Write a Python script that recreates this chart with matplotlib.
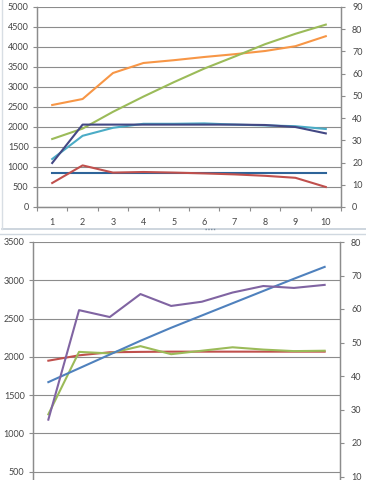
import numpy as np
import matplotlib
matplotlib.use("Agg")
import matplotlib.pyplot as plt
from matplotlib.lines import Line2D

# --- data ---
cats = [1, 2, 3, 4, 5, 6, 7, 8, 9, 10]

# top chart, left-axis units
top_orange = [2550, 2700, 3350, 3600, 3670, 3750, 3820, 3900, 4020, 4270]
top_green = [1700, 1960, 2380, 2760, 3120, 3460, 3760, 4070, 4330, 4560]
top_teal = [1200, 1780, 1980, 2080, 2080, 2090, 2060, 2040, 2020, 1950]
top_navy = [1100, 2060, 2060, 2060, 2060, 2060, 2060, 2050, 2000, 1840]
top_flat = [840, 840, 840, 840, 840, 840, 840, 840, 840, 840]
top_red = [600, 1040, 860, 875, 860, 840, 815, 780, 730, 500]

# bottom chart, left-axis units
bot_purple = [1180, 2610, 2520, 2820, 2665, 2720, 2840, 2925, 2900, 2940]
bot_blue = [1670, 1850, 2030, 2210, 2380, 2540, 2700, 2860, 3020, 3175]
bot_red = [1950, 2020, 2060, 2065, 2068, 2068, 2068, 2068, 2068, 2068]
bot_green = [1250, 2065, 2045, 2140, 2035, 2080, 2125, 2095, 2075, 2080]

plt.rcParams['font.family'] = ['Lato', 'DejaVu Sans']

W, H = 366, 480
fig = plt.figure(figsize=(W / 100, H / 100), dpi=100)
fig.patch.set_facecolor('white')

grid_c = '#8c8c8c'
axis_c = '#8c8c8c'
txt_c = '#454545'


def px(x0, y0, x1, y1):
    # pixel box -> figure rect
    return [x0 / W, 1 - y1 / H, (x1 - x0) / W, (y1 - y0) / H]


def style(ax, ax2, lmax, lstep, rmax, rstep, lmin_tick=0, rmin_tick=0, xlabels=True):
    ax.set_xlim(0.5, 10.5)
    ax.set_ylim(0, lmax)
    ax.set_yticks(np.arange(0, lmax + 1, lstep))
    ax.set_yticklabels([str(v) if v >= lmin_tick else '' for v in range(0, lmax + 1, lstep)])
    ax2.set_ylim(0, rmax)
    ax2.set_yticks(np.arange(0, rmax + 1, rstep))
    ax2.set_yticklabels([str(v) if v >= rmin_tick else '' for v in range(0, rmax + 1, rstep)])
    ax.set_xticks(np.arange(0.5, 11, 1))
    ax.set_xticklabels([])
    if xlabels:
        ax.set_xticks(cats, minor=True)
        ax.set_xticklabels([str(c) for c in cats], minor=True)
    ax.tick_params(axis='x', which='major', length=3, color=axis_c)
    ax.tick_params(axis='x', which='minor', length=0, pad=8,
                   labelsize=6.5, labelcolor=txt_c)
    ax.tick_params(axis='y', length=3, width=0.8, color=axis_c, pad=3,
                   labelsize=6.5, labelcolor=txt_c)
    ax2.tick_params(axis='y', length=3, width=0.8, color=axis_c, pad=5,
                    labelsize=6.5, labelcolor=txt_c)
    ax.yaxis.grid(True, color=grid_c, linewidth=0.8)
    ax.set_axisbelow(True)
    for a in (ax, ax2):
        a.spines['top'].set_visible(False)
        for s in ('left', 'right', 'bottom'):
            a.spines[s].set_color(axis_c)
            a.spines[s].set_linewidth(0.9)


# --- top chart ---
ax = fig.add_axes(px(37, 7, 341, 207))
ax2 = ax.twinx()
style(ax, ax2, 5000, 500, 90, 10)
lw = 1.5
ax.plot(cats, top_orange, color='#F79646', lw=lw)
ax.plot(cats, top_green, color='#9BBB59', lw=lw)
ax.plot(cats, top_teal, color='#4BACC6', lw=lw)
ax.plot(cats, top_navy, color='#434884', lw=lw)
ax.plot(cats, top_flat, color='#2E6499', lw=lw)
ax.plot(cats, top_red, color='#C0504D', lw=lw)

# --- bottom chart (runs off the bottom of the picture) ---
bx = fig.add_axes(px(33, 242, 340, 510))
bx2 = bx.twinx()
style(bx, bx2, 3500, 500, 80, 10, lmin_tick=500, rmin_tick=10, xlabels=False)
bx.plot(cats, bot_red, color='#C0504D', lw=lw)
bx.plot(cats, bot_green, color='#9BBB59', lw=lw)
bx.plot(cats, bot_blue, color='#4F81BD', lw=lw)
bx.plot(cats, bot_purple, color='#8064A2', lw=lw)

# chart borders between the two pictures
fig.add_artist(Line2D([2 / W, 1], [1 - 229 / H] * 2, color='#c5ced8', lw=1.2))
fig.add_artist(Line2D([2 / W, 2 / W], [1 - 229 / H, 1], color='#d8dee4', lw=1.0))
fig.add_artist(Line2D([0, 1], [1 - 234 / H] * 2, color='#d0d8e0', lw=1.0))
fig.add_artist(Line2D([205 / W, 216 / W], [1 - 229 / H] * 2, color='#8090a0',
                      lw=1.0, linestyle=(0, (1, 1))))

fig.savefig('out.png', dpi=100, facecolor='white')
